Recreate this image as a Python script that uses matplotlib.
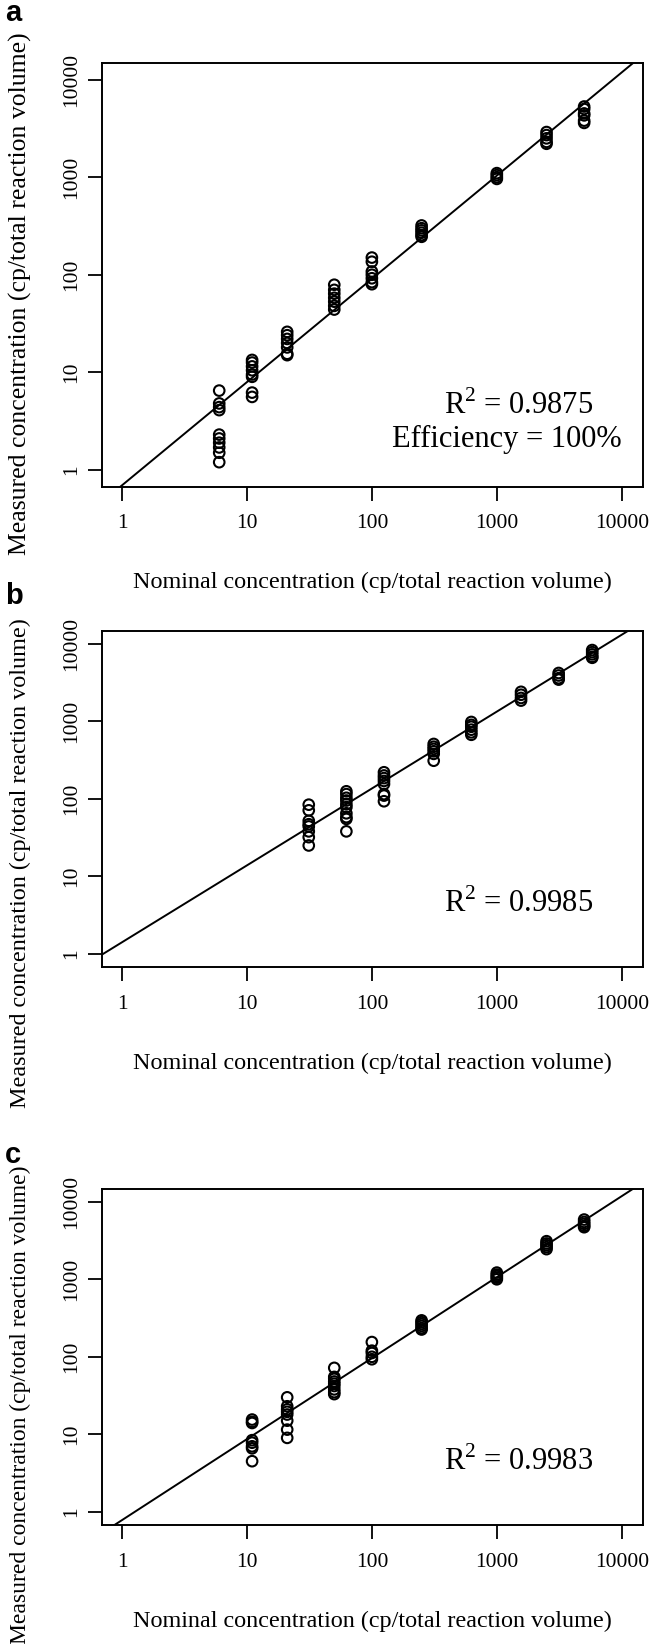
import numpy as np
import matplotlib
matplotlib.use("Agg")
import matplotlib.pyplot as plt

plt.rcParams['font.family'] = ['Liberation Serif', 'DejaVu Serif']
plt.rcParams['mathtext.fontset'] = 'custom'
plt.rcParams['mathtext.rm'] = 'Liberation Serif'

# panel a
a_levels = [6, 11, 21, 50, 100, 250, 1000, 2500, 5000]
a_measured = [
    [6.5, 4.8, 4.4, 4.1, 2.3, 2.1, 1.9, 1.7, 1.5, 1.2],
    [13.4, 12.6, 11.5, 10.5, 9.5, 9.0, 6.2, 5.6],
    [26, 24, 22, 20, 18, 15.5, 15],
    [79, 70, 64, 58, 53, 48, 44],
    [150, 136, 108, 100, 92, 84, 80],
    [320, 300, 285, 270, 255, 245],
    [1100, 1050, 1000, 960],
    [2900, 2700, 2500, 2300, 2200],
    [5300, 5000, 4500, 4300, 3800, 3600],
]
a_fit = (1.058, -0.158)  # slope, intercept in log10 space
a_text = ['R$^2$ = 0.9875', 'Efficiency = 100%']

# panel b
b_levels = [31.25, 62.5, 125, 312.5, 625, 1562.5, 3125, 5800]
b_measured = [
    [84, 71, 52, 47, 44, 38, 32, 25],
    [125, 115, 103, 95, 85, 78, 65, 58, 55, 38],
    [220, 200, 185, 170, 155, 115, 110, 93],
    [510, 470, 440, 410, 380, 310],
    [980, 900, 850, 780, 720, 670],
    [2400, 2200, 2000, 1850],
    [4200, 3900, 3600, 3450],
    [8300, 7800, 7300, 6800, 6600],
]
b_fit = (0.992, 0.149)
b_text = ['R$^2$ = 0.9985']

# panel c
c_levels = [11, 21, 50, 100, 250, 1000, 2500, 5000]
c_measured = [
    [15.5, 14.5, 14, 8.4, 7.8, 7.0, 6.6, 4.5],
    [30, 23, 21, 19.5, 18, 15, 11.5, 9],
    [72, 55, 52, 48, 45, 42, 38, 35, 33],
    [155, 120, 112, 100, 93],
    [295, 280, 265, 250, 235, 225],
    [1220, 1150, 1100, 1050, 1000],
    [3100, 2900, 2750, 2600, 2450],
    [5900, 5500, 5200, 4900, 4700],
]
c_fit = (1.045, -0.107)
c_text = ['R$^2$ = 0.9983']

ticks = [1, 10, 100, 1000, 10000]
tick_labels = ['1', '10', '100', '1000', '10000']

W, H = 660, 1644


def draw_panel(fig, top, height, letter_y, ylab_y, ylab_size, letter, levels, measured, fit, texts):
    left, width = 102, 541
    ax = fig.add_axes([left / W, 1 - (top + height) / H, width / W, height / H])
    xs, ys = [], []
    for lev, vals in zip(levels, measured):
        xs += [lev] * len(vals)
        ys += vals
    ax.scatter(xs, ys, s=58, facecolors='none', edgecolors='black', linewidths=1.5, zorder=3)

    slope, icpt = fit
    ax.axline((1, 10 ** icpt), (10000, 10 ** (4 * slope + icpt)), color='black', lw=1.4)

    ax.set_xscale('log')
    ax.set_yscale('log')
    ax.set_xlim(10 ** -0.16, 10 ** 4.17)
    ax.set_ylim(10 ** -0.17, 10 ** 4.165)
    ax.set_xticks(ticks)
    ax.set_xticklabels(tick_labels)
    ax.set_yticks(ticks)
    ax.set_yticklabels(tick_labels, rotation=90, va='center')
    ax.minorticks_off()
    ax.tick_params(direction='out', length=10, width=1.3, labelsize=15.5)
    ax.tick_params(axis='x', pad=10)
    ax.tick_params(axis='y', pad=5)
    for sp in ax.spines.values():
        sp.set_linewidth(1.4)

    ax.set_xlabel('Nominal concentration (cp/total reaction volume)', fontsize=17.4, va='center')
    ax.xaxis.set_label_coords(0.5, -96 / height)
    ax.set_ylabel('Measured concentration (cp/total reaction volume)', fontsize=ylab_size,
                  va='center', ha='center')
    # ylabel is not centred on the box in the original
    ax.yaxis.set_label_coords(-(left - 20) / width, 1 - (ylab_y - top) / height)

    if len(texts) == 2:
        ax.text(0.771, 0.19, texts[0], transform=ax.transAxes, ha='center', va='center', fontsize=22)
        ax.text(0.749, 0.11, texts[1], transform=ax.transAxes, ha='center', va='center', fontsize=22)
    else:
        ax.text(0.77, 0.188, texts[0], transform=ax.transAxes, ha='center', va='center', fontsize=22)

    fig.text(5 / W, 1 - letter_y / H, letter, fontsize=21, fontweight='bold',
             family='Liberation Sans', va='center', ha='left')
    return ax


fig = plt.figure(figsize=(W / 100, H / 100), dpi=100)
draw_panel(fig, 63.5, 423, 13, 294, 18.5, 'a', a_levels, a_measured, a_fit, a_text)
draw_panel(fig, 631, 336, 596, 863, 17.4, 'b', b_levels, b_measured, b_fit, b_text)
draw_panel(fig, 1189, 336, 1155, 1405, 17, 'c', c_levels, c_measured, c_fit, c_text)
fig.savefig('out.png', dpi=100)
